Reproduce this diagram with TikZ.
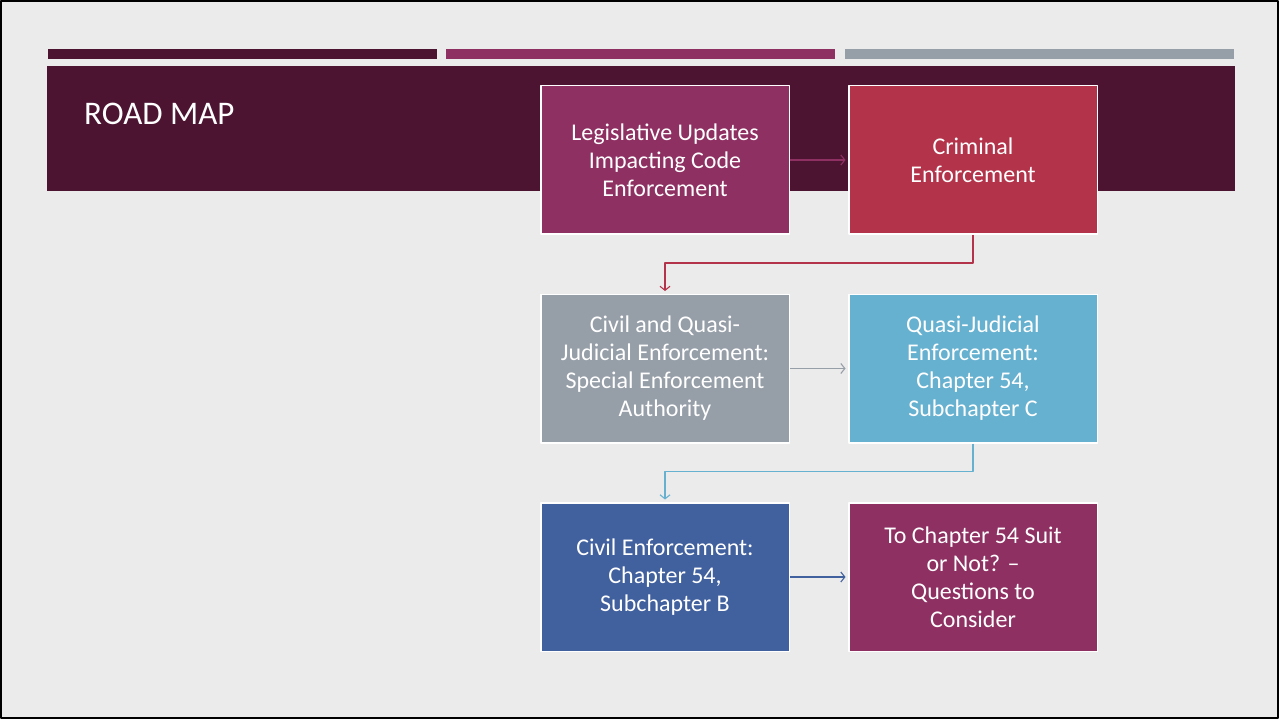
\documentclass[tikz,border=0pt]{standalone}
\usepackage{fontspec}
\setmainfont{Carlito}
\usetikzlibrary{positioning,arrows.meta}
\definecolor{paper}{HTML}{EBEBEB}
\definecolor{plum}{HTML}{4D1432}
\definecolor{rose}{HTML}{8E3062}
\definecolor{crimson}{HTML}{B3334A}
\definecolor{slate}{HTML}{969EA8}
\definecolor{sky}{HTML}{67B1D0}
\definecolor{navy}{HTML}{41609E}
\begin{document}
\begin{tikzpicture}[x=1pt, y=-1pt, font=\fontsize{24}{28}\selectfont, line join=round, >={Straight Barb[length=4pt,width=10pt]},
		box/.style={draw=white, line width=1.5pt, minimum width=248.5pt, minimum height=148.5pt, text=white, align=center, inner sep=0pt},
		link/.style={->, line width=1.1pt, shorten >=2.5pt}]
	\fill[paper] (0,0) rectangle (1279,719);
	\draw[line width=2pt] (1,1) rectangle (1278,718);
	% three thin bars and the title band
	\fill[plum] (48,49) rectangle (437,59);
	\fill[rose] (446,49) rectangle (835,59);
	\fill[slate] (845,49) rectangle (1234,59);
	\fill[plum] (47,66) rectangle (1235,191);
	\node[anchor=base west, inner sep=0pt, text=white, font=\fontsize{33}{40}\selectfont] (title) at (84,125) {ROAD MAP};
	% the six steps
	\node[box, fill=rose] (leg) at (665,160) {Legislative Updates\\Impacting Code\\Enforcement};
	\node[box, fill=crimson, right=58pt of leg] (crim) {Criminal\\Enforcement};
	\node[box, fill=slate, below=58.5pt of leg] (civq) {Civil and Quasi-\\Judicial Enforcement:\\Special Enforcement\\Authority};
	\node[box, fill=sky, right=58pt of civq] (quasi) {Quasi-Judicial\\Enforcement:\\Chapter 54,\\Subchapter C};
	\node[box, fill=navy, below=58.5pt of civq] (civil) {Civil Enforcement:\\Chapter 54,\\Subchapter B};
	\node[box, fill=rose, right=58pt of civil] (suit) {To Chapter 54 Suit\\or Not? --\\Questions to\\Consider};
	\draw[link, rose] (leg) -- (crim);
	\draw[link, crimson] (crim.south) -- ++(0,28) -| (civq.north);
	\draw[link, slate] (civq) -- (quasi);
	\draw[link, sky] (quasi.south) -- ++(0,28) -| (civil.north);
	\draw[link, navy] (civil) -- (suit);
\end{tikzpicture}
\end{document}
